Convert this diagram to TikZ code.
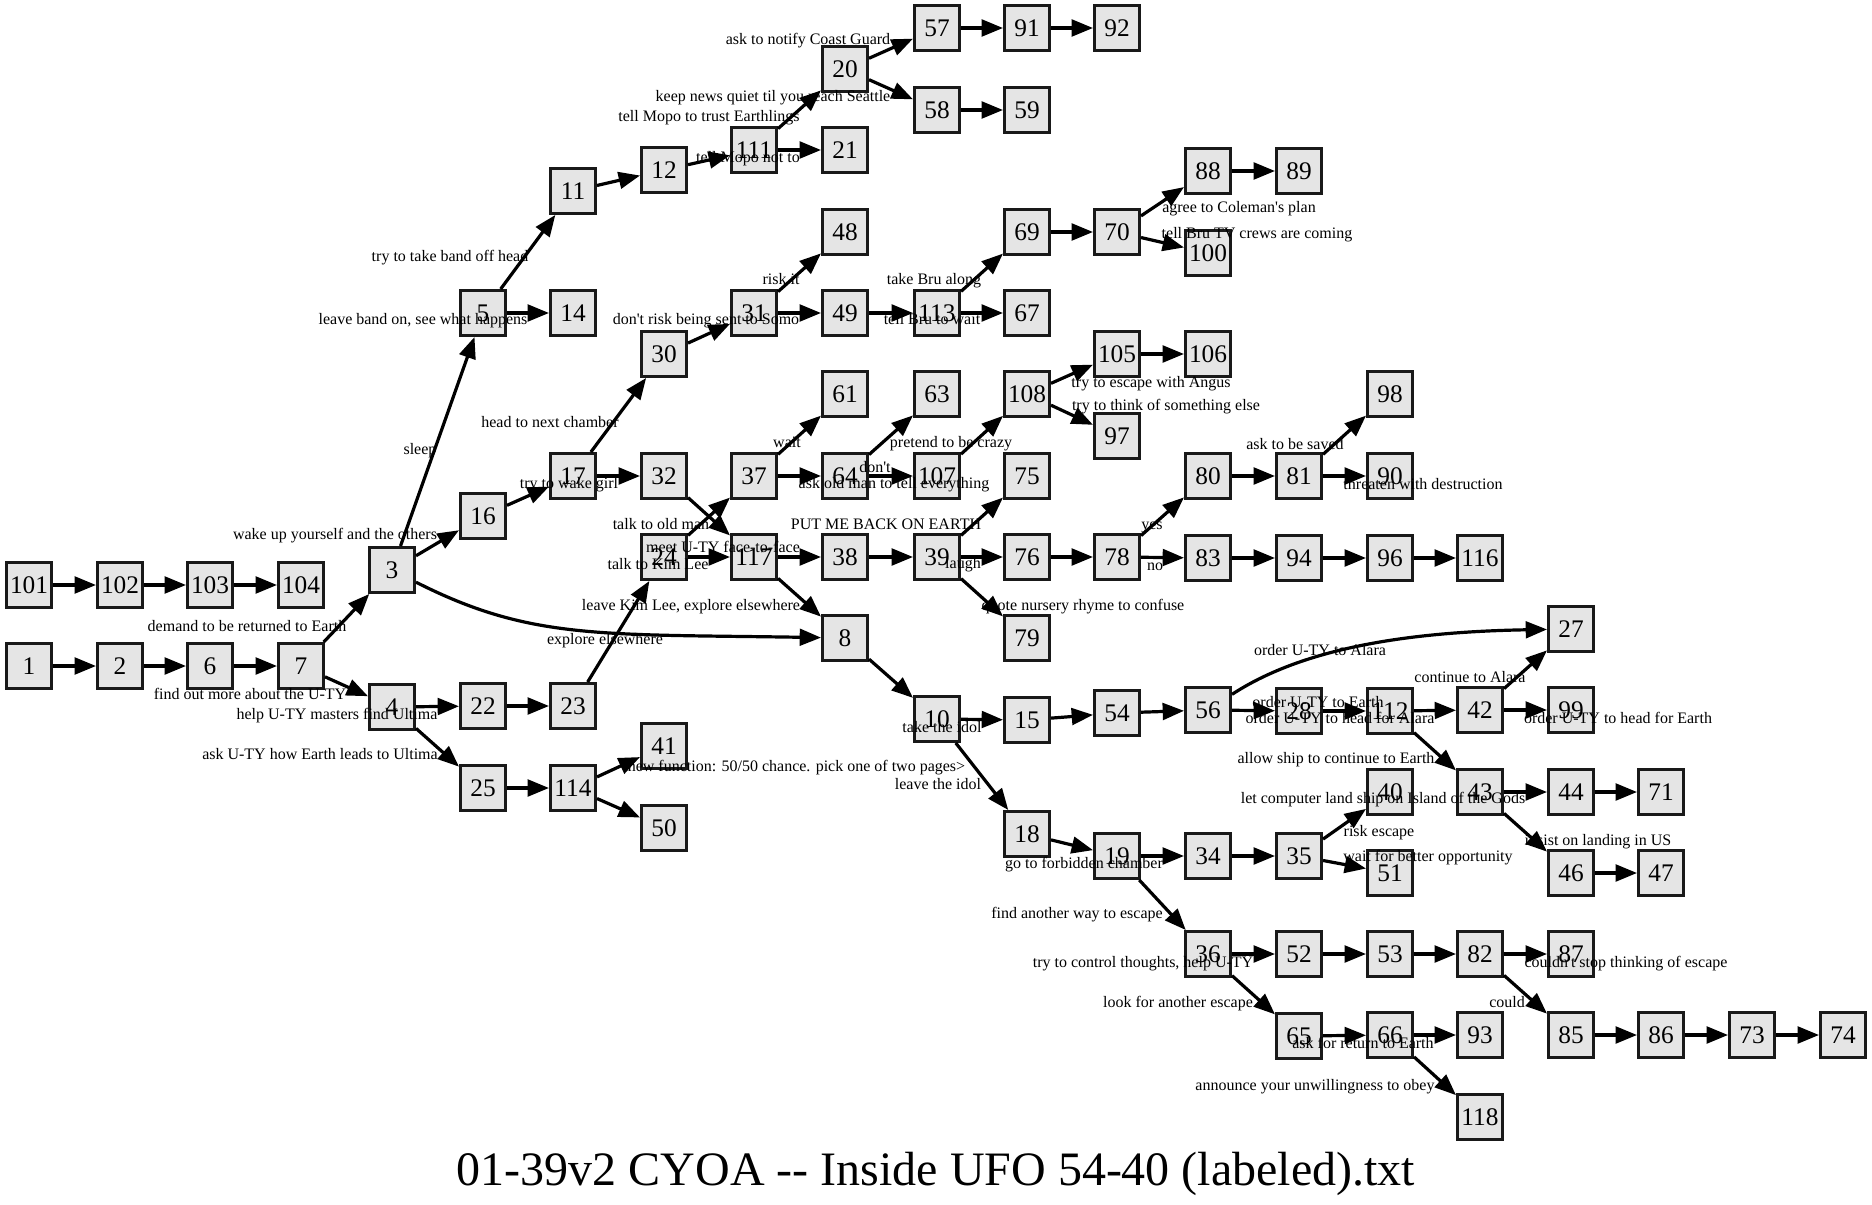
\documentclass[tikz,border=0pt]{standalone}
\usepackage{fontspec}
\setmainfont{Liberation Serif}
\usetikzlibrary{arrows.meta}

\begin{document}
\begin{tikzpicture}[x=0.75pt, y=-0.75pt, >={Triangle[length=16pt, width=12.5pt]},
  every node/.style={rectangle, draw=black!90, fill=black!10, line width=2pt, minimum size=34pt, inner sep=0pt, font=\fontsize{19}{21}\selectfont},
  lbl/.style={draw=none, fill=none, minimum size=0pt, font=\fontsize{12}{13}\selectfont, text height=8.5pt, text depth=2.5pt},
  arr/.style={->, line width=2.4pt}]
  \useasboundingbox (0,0) rectangle (1872,1205);
  \node (101) at (29,585) {101};
  \node (1) at (29,666) {1};
  \node (102) at (120,585) {102};
  \node (2) at (120,666) {2};
  \node (103) at (210,585) {103};
  \node (6) at (210,666) {6};
  \node (104) at (301,585) {104};
  \node (7) at (301,666) {7};
  \node (3) at (392,570) {3};
  \node (4) at (392,707) {4};
  \node (5) at (483,313) {5};
  \node (16) at (483,516) {16};
  \node (22) at (483,706) {22};
  \node (25) at (483,788) {25};
  \node (11) at (573,191) {11};
  \node (14) at (573,313) {14};
  \node (17) at (573,476) {17};
  \node (23) at (573,706) {23};
  \node (114) at (573,788) {114};
  \node (12) at (664,170) {12};
  \node (30) at (664,354) {30};
  \node (32) at (664,476) {32};
  \node (24) at (664,557) {24};
  \node (41) at (664,746) {41};
  \node (50) at (664,828) {50};
  \node (111) at (754,150) {111};
  \node (31) at (754,313) {31};
  \node (37) at (754,476) {37};
  \node (117) at (754,557) {117};
  \node (20) at (845,69) {20};
  \node (21) at (845,150) {21};
  \node (48) at (845,232) {48};
  \node (49) at (845,313) {49};
  \node (61) at (845,394) {61};
  \node (64) at (845,476) {64};
  \node (38) at (845,557) {38};
  \node (8) at (845,638) {8};
  \node (57) at (937,28) {57};
  \node (58) at (937,110) {58};
  \node (113) at (937,313) {113};
  \node (63) at (937,394) {63};
  \node (107) at (937,476) {107};
  \node (39) at (937,557) {39};
  \node (10) at (937,719) {10};
  \node (91) at (1027,28) {91};
  \node (59) at (1027,110) {59};
  \node (69) at (1027,232) {69};
  \node (67) at (1027,313) {67};
  \node (108) at (1027,394) {108};
  \node (75) at (1027,476) {75};
  \node (76) at (1027,557) {76};
  \node (79) at (1027,638) {79};
  \node (15) at (1027,720) {15};
  \node (18) at (1027,834) {18};
  \node (92) at (1117,28) {92};
  \node (70) at (1117,232) {70};
  \node (105) at (1117,354) {105};
  \node (97) at (1117,436) {97};
  \node (78) at (1117,557) {78};
  \node (54) at (1117,713) {54};
  \node (19) at (1117,856) {19};
  \node (88) at (1208,171) {88};
  \node (100) at (1208,253) {100};
  \node (106) at (1208,354) {106};
  \node (80) at (1208,476) {80};
  \node (83) at (1208,558) {83};
  \node (56) at (1208,710) {56};
  \node (34) at (1208,856) {34};
  \node (36) at (1208,954) {36};
  \node (89) at (1299,171) {89};
  \node (81) at (1299,476) {81};
  \node (94) at (1299,558) {94};
  \node (28) at (1299,711) {28};
  \node (35) at (1299,856) {35};
  \node (52) at (1299,954) {52};
  \node (65) at (1299,1036) {65};
  \node (98) at (1390,394) {98};
  \node (90) at (1390,476) {90};
  \node (96) at (1390,558) {96};
  \node (112) at (1390,711) {112};
  \node (40) at (1390,792) {40};
  \node (51) at (1390,873) {51};
  \node (53) at (1390,954) {53};
  \node (66) at (1390,1035) {66};
  \node (116) at (1480,558) {116};
  \node (42) at (1480,710) {42};
  \node (43) at (1480,792) {43};
  \node (82) at (1480,954) {82};
  \node (93) at (1480,1035) {93};
  \node (118) at (1480,1117) {118};
  \node (27) at (1571,629) {27};
  \node (99) at (1571,710) {99};
  \node (44) at (1571,792) {44};
  \node (46) at (1571,873) {46};
  \node (87) at (1571,954) {87};
  \node (85) at (1571,1035) {85};
  \node (71) at (1661,792) {71};
  \node (47) at (1661,873) {47};
  \node (86) at (1661,1035) {86};
  \node (73) at (1752,1035) {73};
  \node (74) at (1843,1035) {74};
  \node[draw=none, fill=none, minimum size=0pt, anchor=base, font=\fontsize{36}{40}\selectfont] (title) at (936,1185) {01-39v2 CYOA -{}- Inside UFO 54-40 (labeled).txt};
  \draw[arr] (101) -- (102);
  \draw[arr] (102) -- (103);
  \draw[arr] (103) -- (104);
  \draw[arr] (1) -- (2);
  \draw[arr] (2) -- (6);
  \draw[arr] (6) -- (7);
  \draw[arr] (7) -- (3) node[lbl] at (247,627) {demand to be returned to Earth};
  \draw[arr] (7) -- (4) node[lbl] at (250,695) {find out more about the U-TY};
  \draw[arr] (3) -- (5) node[lbl] at (420,450) {sleep};
  \draw[arr] (3) -- (16) node[lbl] at (335,535) {wake up yourself and the others};
  \draw[arr] (3) .. controls (530,640) and (600,634) .. (8) node[lbl] at (605,640) {explore elsewhere};
  \draw[arr] (4) -- (22) node[lbl] at (337,715) {help U-TY masters find Ultima};
  \draw[arr] (4) -- (25) node[lbl] at (320,755) {ask U-TY how Earth leads to Ultima};
  \draw[arr] (5) -- (11) node[lbl] at (450,258) {try to take band off head};
  \draw[arr] (5) -- (14) node[lbl] at (423,321) {leave band on, see what happens};
  \draw[arr] (16) -- (17);
  \draw[arr] (22) -- (23);
  \draw[arr] (23) -- (24);
  \draw[arr] (25) -- (114);
  \draw[arr] (114) -- (41) node[lbl] at (792,767) {<new function: 50/50 chance. pick one of two pages>};
  \draw[arr] (114) -- (50);
  \draw[arr] (11) -- (12);
  \draw[arr] (12) -- (111);
  \draw[arr] (17) -- (30) node[lbl] at (550,423) {head to next chamber};
  \draw[arr] (17) -- (32) node[lbl] at (569,484) {try to wake girl};
  \draw[arr] (30) -- (31);
  \draw[arr] (32) -- (117);
  \draw[arr] (24) -- (37) node[lbl] at (661,525) {talk to old man};
  \draw[arr] (24) -- (117) node[lbl] at (658,565) {talk to Kim Lee};
  \draw[arr] (111) -- (20) node[lbl] at (709,118) {tell Mopo to trust Earthlings};
  \draw[arr] (111) -- (21) node[lbl] at (748,159) {tell Mopo not to};
  \draw[arr] (31) -- (48) node[lbl] at (781,281) {risk it};
  \draw[arr] (31) -- (49) node[lbl] at (706,321) {don\textquotesingle t risk being sent to Somo};
  \draw[arr] (37) -- (61) node[lbl] at (787,443) {wait};
  \draw[arr] (37) -- (64) node[lbl] at (894,484) {ask old man to tell everything};
  \draw[arr] (117) -- (38) node[lbl] at (723,548) {meet U-TY face-to-face};
  \draw[arr] (117) -- (8) node[lbl] at (691,606) {leave Kim Lee, explore elsewhere};
  \draw[arr] (20) -- (57) node[lbl] at (808,41) {ask to notify Coast Guard};
  \draw[arr] (20) -- (58) node[lbl] at (773,98) {keep news quiet til you reach Seattle};
  \draw[arr] (49) -- (113);
  \draw[arr] (64) -- (63) node[lbl] at (951,443) {pretend to be crazy};
  \draw[arr] (64) -- (107) node[lbl] at (875,468) {don\textquotesingle t};
  \draw[arr] (38) -- (39);
  \draw[arr] (8) -- (10);
  \draw[arr] (57) -- (91);
  \draw[arr] (91) -- (92);
  \draw[arr] (58) -- (59);
  \draw[arr] (113) -- (69) node[lbl] at (934,281) {take Bru along};
  \draw[arr] (113) -- (67) node[lbl] at (932,321) {tell Bru to wait};
  \draw[arr] (107) -- (108);
  \draw[arr] (39) -- (75) node[lbl] at (886,525) {PUT ME BACK ON EARTH};
  \draw[arr] (39) -- (76) node[lbl] at (963,564) {laugh};
  \draw[arr] (39) -- (79) node[lbl] at (1083,606) {quote nursery rhyme to confuse};
  \draw[arr] (10) -- (15) node[lbl] at (942,728) {take the idol};
  \draw[arr] (10) -- (18) node[lbl] at (938,785) {leave the idol};
  \draw[arr] (69) -- (70);
  \draw[arr] (108) -- (105) node[lbl] at (1151,383) {try to escape with Angus};
  \draw[arr] (108) -- (97) node[lbl] at (1166,406) {try to think of something else};
  \draw[arr] (76) -- (78);
  \draw[arr] (15) -- (54);
  \draw[arr] (18) -- (19);
  \draw[arr] (70) -- (88) node[lbl] at (1239,209) {agree to Coleman\textquotesingle s plan};
  \draw[arr] (70) -- (100) node[lbl] at (1257,235) {tell Bru TV crews are coming};
  \draw[arr] (105) -- (106);
  \draw[arr] (78) -- (80) node[lbl] at (1152,525) {yes};
  \draw[arr] (78) -- (83) node[lbl] at (1155,566) {no};
  \draw[arr] (54) -- (56);
  \draw[arr] (19) -- (34) node[lbl] at (1084,864) {go to forbidden chamber};
  \draw[arr] (19) -- (36) node[lbl] at (1077,914) {find another way to escape};
  \draw[arr] (88) -- (89);
  \draw[arr] (80) -- (81);
  \draw[arr] (83) -- (94);
  \draw[arr] (56) .. controls (1300,650) and (1400,632) .. (27) node[lbl] at (1320,651) {order U-TY to Alara};
  \draw[arr] (56) -- (28) node[lbl] at (1318,703) {order U-TY to Earth};
  \draw[arr] (34) -- (35);
  \draw[arr] (36) -- (52) node[lbl] at (1143,963) {try to control thoughts, help U-TY};
  \draw[arr] (36) -- (65) node[lbl] at (1178,1003) {look for another escape};
  \draw[arr] (81) -- (98) node[lbl] at (1295,445) {ask to be saved};
  \draw[arr] (81) -- (90) node[lbl] at (1423,485) {threaten with destruction};
  \draw[arr] (94) -- (96);
  \draw[arr] (28) -- (112);
  \draw[arr] (35) -- (40) node[lbl] at (1379,832) {risk escape};
  \draw[arr] (35) -- (51) node[lbl] at (1428,857) {wait for better opportunity};
  \draw[arr] (52) -- (53);
  \draw[arr] (65) -- (66);
  \draw[arr] (96) -- (116);
  \draw[arr] (112) -- (42) node[lbl] at (1340,719) {order U-TY to head for Alara};
  \draw[arr] (112) -- (43) node[lbl] at (1336,759) {allow ship to continue to Earth};
  \draw[arr] (53) -- (82);
  \draw[arr] (66) -- (93) node[lbl] at (1363,1044) {ask for return to Earth};
  \draw[arr] (66) -- (118) node[lbl] at (1315,1086) {announce your unwillingness to obey};
  \draw[arr] (42) -- (27) node[lbl] at (1470,678) {continue to Alara};
  \draw[arr] (42) -- (99) node[lbl] at (1618,719) {order U-TY to head for Earth};
  \draw[arr] (43) -- (44) node[lbl] at (1383,799) {let computer land ship on Island of the Gods};
  \draw[arr] (43) -- (46) node[lbl] at (1598,841) {insist on landing in US};
  \draw[arr] (82) -- (87) node[lbl] at (1626,963) {couldn\textquotesingle t stop thinking of escape};
  \draw[arr] (82) -- (85) node[lbl] at (1507,1003) {could};
  \draw[arr] (44) -- (71);
  \draw[arr] (46) -- (47);
  \draw[arr] (85) -- (86);
  \draw[arr] (86) -- (73);
  \draw[arr] (73) -- (74);
\end{tikzpicture}
\end{document}
